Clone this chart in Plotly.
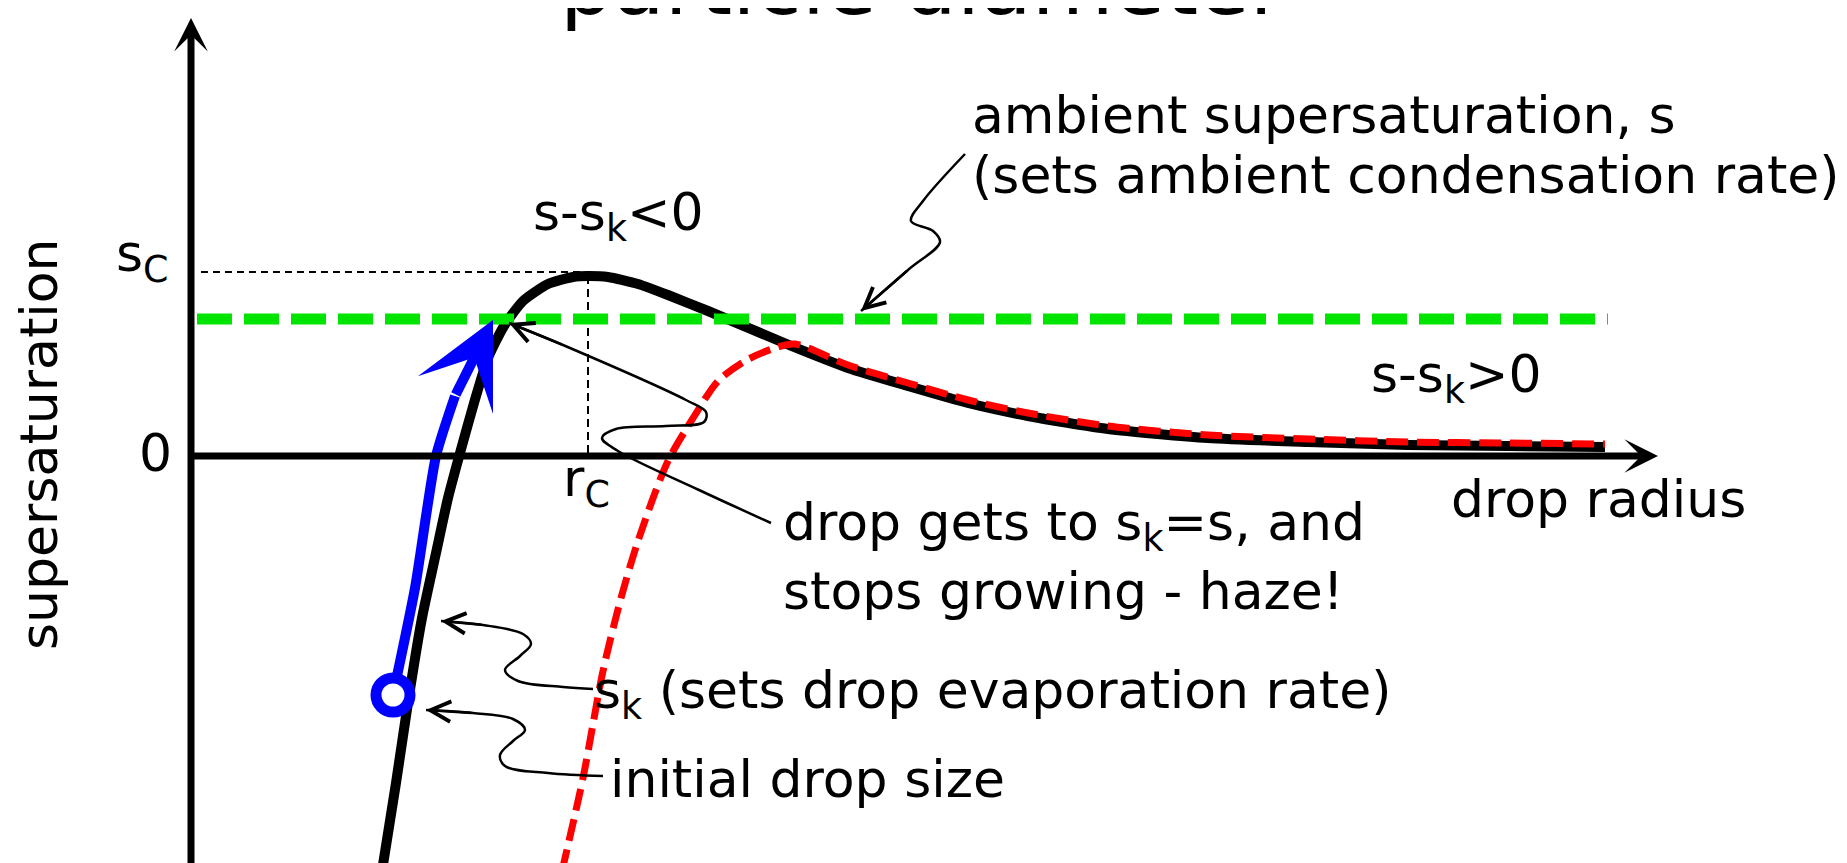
import plotly.graph_objects as go

# schematic units: drop radius (x) and supersaturation (y), origin where the axes cross
kohler_r = [1.91, 2.05, 2.18, 2.31, 2.45, 2.57, 2.69, 2.83, 2.97, 3.13, 3.32, 3.57, 3.82, 3.97,
            4.17, 4.47, 4.77, 5.17, 5.98, 6.57, 7.17, 7.77, 8.37, 9.17, 10.17, 11.17, 12.17,
            13.17, 14.14]
kohler_s = [-4.15, -3.27, -2.40, -1.62, -0.97, -0.42, 0.03, 0.53, 0.98, 1.30, 1.55, 1.72, 1.79, 1.80,
            1.79, 1.72, 1.61, 1.45, 1.11, 0.88, 0.70, 0.53, 0.40, 0.27, 0.18, 0.14, 0.11,
            0.10, 0.09]

haze_r = [3.71, 3.92, 4.12, 4.30, 4.48, 4.77, 5.04, 5.27, 5.54, 5.84, 6.04, 6.57, 7.17,
          7.77, 8.37, 9.17, 10.17, 11.17, 12.17, 13.17, 14.14]
haze_s = [-4.15, -3.22, -2.15, -1.42, -0.82, -0.05, 0.41, 0.75, 0.95, 1.08, 1.12, 0.91, 0.73,
          0.56, 0.43, 0.30, 0.21, 0.17, 0.14, 0.13, 0.12]

s_ambient = 1.37
ambient_r = [0.06, 14.17]
s_crit = 1.84
r_crit = 3.97

growth_r = [2.02, 2.24, 2.45, 2.64]
growth_s = [-2.39, -1.32, 0.00, 0.60]
growth_tip = (3.02, 1.36)

# hand-drawn callout squiggles, text end -> arrow tip
callout_ambient_r = [7.74, 7.32, 7.20, 7.42, 7.49, 7.17, 6.70]
callout_ambient_s = [3.02, 2.55, 2.35, 2.25, 2.14, 1.86, 1.45]
callout_haze_r = [5.80, 5.08, 4.27, 4.11, 4.25, 4.75, 5.13, 5.15, 4.95, 3.72, 3.18]
callout_haze_s = [-0.67, -0.34, 0.05, 0.18, 0.27, 0.30, 0.34, 0.44, 0.56, 1.11, 1.33]
callout_sk_r = [4.02, 3.72, 3.27, 3.14, 3.29, 3.40, 3.32, 2.92, 2.50]
callout_sk_s = [-2.33, -2.31, -2.25, -2.14, -2.00, -1.88, -1.78, -1.69, -1.65]
callout_init_r = [4.12, 3.57, 3.14, 3.09, 3.22, 3.34, 3.22, 2.82, 2.35]
callout_init_s = [-3.20, -3.17, -3.10, -2.99, -2.85, -2.74, -2.63, -2.57, -2.54]

x_range = [-1.83, 16.64]
y_range = [-4.15, 4.48]
x_axis_end = 14.67
y_axis_end = 4.38

FONT = "DejaVu Sans"
SIZE = 52

fig = go.Figure()

# critical point guides
fig.add_trace(go.Scatter(x=[0.10, r_crit], y=[s_crit, s_crit], mode='lines',
                         line=dict(color='black', width=2, dash='7px,5px')))
fig.add_trace(go.Scatter(x=[r_crit, r_crit], y=[1.80, 0], mode='lines',
                         line=dict(color='black', width=2, dash='8px,5px')))

fig.add_trace(go.Scatter(x=kohler_r, y=kohler_s, mode='lines',
                         line=dict(color='black', width=10, shape='spline', smoothing=0.6)))
fig.add_trace(go.Scatter(x=haze_r, y=haze_s, mode='lines',
                         line=dict(color='#ff0000', width=7, dash='22px,9px', shape='spline', smoothing=0.8)))
fig.add_trace(go.Scatter(x=ambient_r, y=[s_ambient, s_ambient], mode='lines',
                         line=dict(color='#00e400', width=11, dash='35px,12px')))

fig.add_trace(go.Scatter(x=growth_r, y=growth_s, mode='lines',
                         line=dict(color='#0000ff', width=10, shape='spline', smoothing=0.6)))
fig.add_trace(go.Scatter(x=[growth_r[0]], y=[growth_s[0]], mode='markers',
                         marker=dict(symbol='circle', size=34, color='white',
                                     line=dict(color='#0000ff', width=11))))

callouts = [
    (callout_ambient_r, callout_ambient_s),
    (callout_haze_r, callout_haze_s),
    (callout_sk_r, callout_sk_s),
    (callout_init_r, callout_init_s),
]
for cr, cs in callouts:
    fig.add_trace(go.Scatter(x=cr, y=cs, mode='lines',
                             line=dict(color='black', width=2.5, shape='spline', smoothing=1.0)))

annotations = []

def arrow(x, y, ax, ay, width, head, size, color='black'):
    annotations.append(dict(x=x, y=y, ax=ax, ay=ay, xref='x', yref='y', axref='x', ayref='y',
                            text='', showarrow=True, arrowhead=head, arrowsize=size,
                            arrowwidth=width, arrowcolor=color, standoff=0))

# axes with arrow heads
arrow(0, y_axis_end, 0, y_range[0], 7, 3, 0.8)
arrow(x_axis_end, 0, 0, 0, 7, 3, 0.8)
# growth arrow head
arrow(growth_tip[0], growth_tip[1], growth_r[-1], growth_s[-1], 10, 3, 1.4, '#0000ff')
# callout heads
for cr, cs in callouts:
    arrow(cr[-1], cs[-1], cr[-2], cs[-2], 2.5, 5, 1.6)

def label(text, x, y, anchor='left', size=SIZE):
    annotations.append(dict(x=x, y=y, xref='x', yref='y', text=text, showarrow=False,
                            xanchor=anchor, yanchor='middle',
                            font=dict(family=FONT, size=size, color='black')))

label('s<sub>C</sub>', -0.77, 1.99)
label('0', -0.36, 0.03, anchor='center')
label('r<sub>C</sub>', 3.70, -0.26)
label('s-s<sub>k</sub>&lt;0', 3.40, 2.40)
label('s-s<sub>k</sub>&gt;0', 11.78, 0.78)
label('drop radius', 12.58, -0.43)
label('ambient supersaturation, s', 7.79, 3.41)
label('(sets ambient condensation rate)', 7.79, 2.81)
label('drop gets to s<sub>k</sub>=s, and', 5.90, -0.70)
label('stops growing - haze!', 5.90, -1.35)
label('s<sub>k</sub> (sets drop evaporation rate)', 4.01, -2.38)
label('initial drop size', 4.17, -3.23)

annotations.append(dict(x=-1.52, y=0.12, xref='x', yref='y', text='supersaturation',
                        showarrow=False, textangle=-90, xanchor='center', yanchor='middle',
                        font=dict(family=FONT, size=SIZE, color='black')))
annotations.append(dict(x=0.4949, y=1.027, xref='paper', yref='paper', text='particle diameter',
                        showarrow=False, xanchor='center', yanchor='middle',
                        font=dict(family=FONT, size=84, color='black')))

fig.update_layout(
    width=1847,
    height=863,
    margin=dict(l=0, r=0, t=0, b=0),
    paper_bgcolor='white',
    plot_bgcolor='white',
    showlegend=False,
    xaxis=dict(range=x_range, visible=False, fixedrange=True),
    yaxis=dict(range=y_range, visible=False, fixedrange=True),
    annotations=annotations,
)

fig.write_html("out.html")
